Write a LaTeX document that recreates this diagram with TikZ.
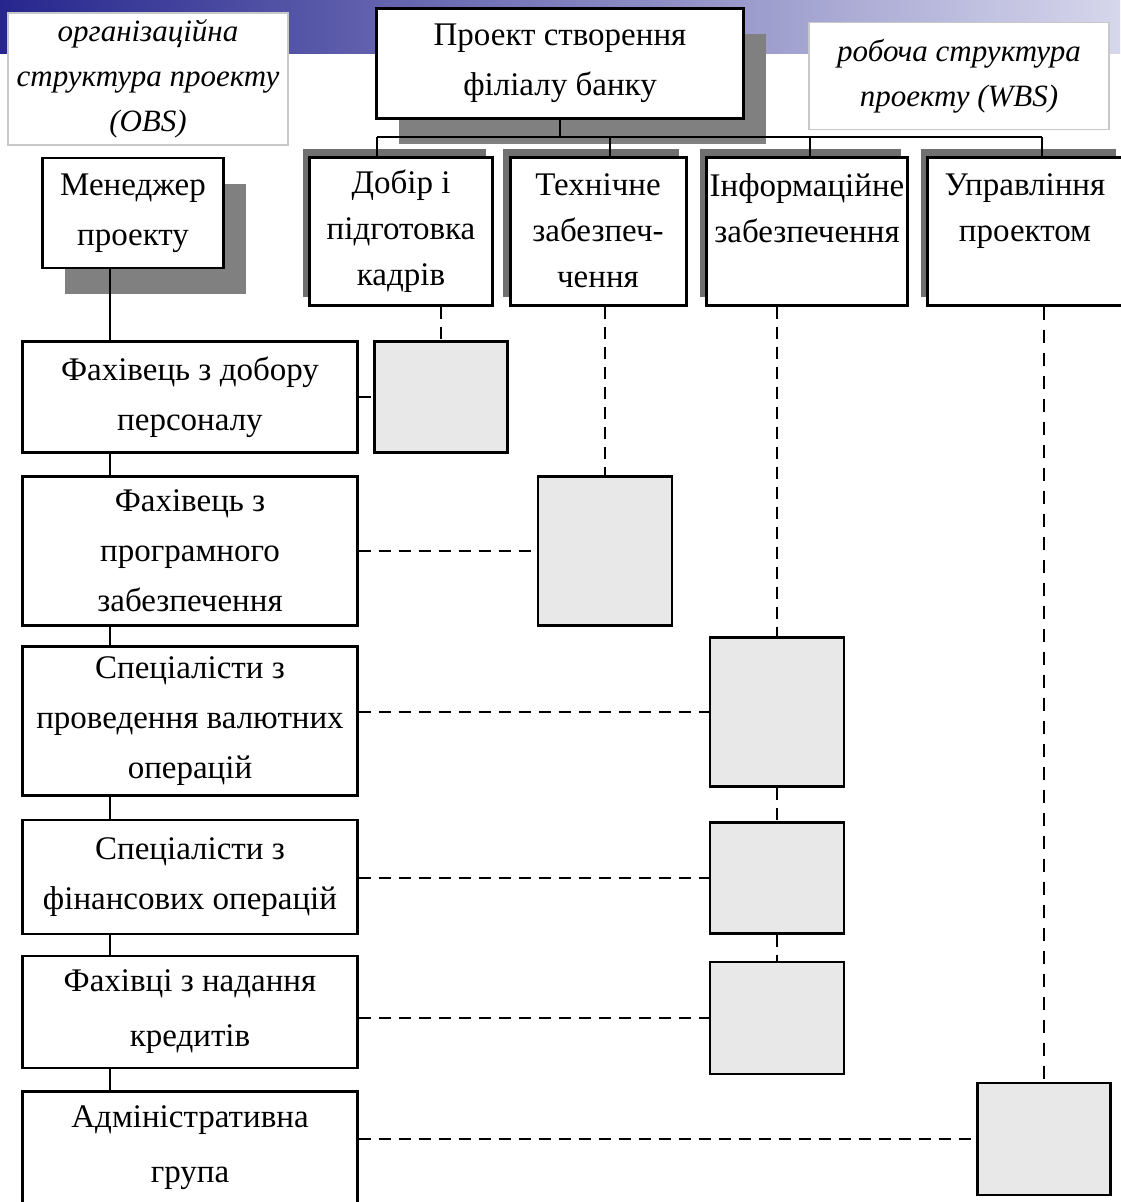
\documentclass[tikz,border=0pt]{standalone}
\usepackage{fontspec}
\setmainfont{Liberation Serif}
\usetikzlibrary{shadows}

\definecolor{bandleft}{RGB}{38,38,142}
\definecolor{bandright}{RGB}{214,214,236}
\definecolor{shadegray}{RGB}{128,128,128}
\definecolor{wbsshade}{RGB}{112,112,112}
\definecolor{packfill}{RGB}{232,232,232}
\definecolor{tagborder}{RGB}{200,200,200}

\tikzset{
    obsbox/.style={draw, line width=2.4pt, fill=white, align=center, inner sep=0pt,
        font=\fontsize{33}{50}\selectfont},
    wbsbox/.style={obsbox, line width=3pt, font=\fontsize{33}{46}\selectfont,
        minimum height=148pt,
        copy shadow={shadow xshift=-7pt, shadow yshift=8pt, fill=wbsshade, draw=none}},
    dropbox/.style={copy shadow={shadow xshift=22pt, shadow yshift=-26pt, fill=shadegray, draw=none}},
    tagbox/.style={draw=tagborder, line width=1.2pt, fill=white, align=center, inner sep=0pt,
        font=\fontsize{31}{45}\selectfont\itshape},
    packbox/.style={draw, line width=2.4pt, fill=packfill, inner sep=0pt},
    link/.style={line width=2.2pt},
    dashlink/.style={line width=2.8pt, dash pattern=on 12pt off 8pt}
}

\begin{document}
\begin{tikzpicture}[x=1pt, y=-1pt]
    \useasboundingbox (0,0) rectangle (1120,1202);
    \shade[left color=bandleft, right color=bandright] (0,0) rectangle (1120,53);

    % labels of the two structures
    \node[tagbox, minimum width=280pt, minimum height=132pt] (obstag) at (148,79)
        {організаційна\\структура проекту\\(OBS)};
    \node[tagbox, minimum width=300pt, minimum height=107pt] (wbstag) at (959,76)
        {робоча структура\\проекту (WBS)};

    % root and WBS level
    \node[obsbox, dropbox, line width=3pt, minimum width=367pt, minimum height=110pt] (root) at (560,63)
        {Проект створення\\філіалу банку};
    \node[wbsbox, minimum width=183pt] (wbs1) at (401,231) {Добір і\\підготовка\\кадрів};
    \node[wbsbox, minimum width=176pt] (wbs2) at (598,231) {Технічне\\забезпеч-\\чення};
    \node[wbsbox, minimum width=201pt] (wbs3) at (807,231) {Інформаційне\\забезпечення\\\mbox{}};
    \node[wbsbox, minimum width=195pt] (wbs4) at (1025,231) {Управління\\проектом\\\mbox{}};

    \coordinate (bus1) at (377,137);
    \coordinate (bus2) at (610,137);
    \coordinate (bus3) at (810,137);
    \coordinate (bus4) at (1042,137);
    \draw[link] (root.south) -- (root.south |- bus1);
    \draw[link] (bus1) -- (bus4);
    \foreach \i in {1,...,4}
        \draw[link] (bus\i) -- (bus\i |- wbs\i.north);

    % OBS column
    \node[obsbox, dropbox, minimum width=181pt, minimum height=110pt] (manager) at (133,213)
        {Менеджер\\проекту};
    \node[obsbox, minimum width=335pt, minimum height=111pt] (obs1) at (190,397)
        {Фахівець з добору\\персоналу};
    \node[obsbox, minimum width=335pt, minimum height=149pt] (obs2) at (190,551)
        {Фахівець з\\програмного\\забезпечення};
    \node[obsbox, minimum width=335pt, minimum height=149pt] (obs3) at (190,721)
        {Спеціалісти з\\проведення валютних\\операцій};
    \node[obsbox, minimum width=335pt, minimum height=114pt] (obs4) at (190,877)
        {Спеціалісти з\\фінансових операцій};
    \node[obsbox, minimum width=335pt, minimum height=112pt, font=\fontsize{33}{55}\selectfont] (obs5) at (190,1012)
        {Фахівці з надання\\кредитів};
    \node[obsbox, minimum width=335pt, minimum height=113pt, font=\fontsize{33}{55}\selectfont] (obs6) at (190,1148)
        {Адміністративна\\група};

    \coordinate (spine) at (110,0);
    \foreach \a/\b in {manager/obs1, obs1/obs2, obs2/obs3, obs3/obs4, obs4/obs5, obs5/obs6}
        \draw[link] (spine |- \a.south) -- (spine |- \b.north);

    % work packages
    \node[packbox, minimum width=133pt, minimum height=111pt] (pack1) at (441,397) {};
    \node[packbox, minimum width=134pt, minimum height=149pt] (pack2) at (605,551) {};
    \node[packbox, minimum width=134pt, minimum height=149pt] (pack3) at (777,712) {};
    \node[packbox, minimum width=134pt, minimum height=111pt] (pack4) at (777,878) {};
    \node[packbox, minimum width=134pt, minimum height=112pt] (pack5) at (777,1018) {};
    \node[packbox, minimum width=133pt, minimum height=112pt] (pack6) at (1044,1139) {};

    \draw[dashlink] (pack1.north |- wbs1.south) -- (pack1.north);
    \draw[dashlink] (pack2.north |- wbs2.south) -- (pack2.north);
    \draw[dashlink] (pack3.north |- wbs3.south) -- (pack3.north);
    \draw[dashlink] (pack3.south) -- (pack4.north);
    \draw[dashlink] (pack4.south) -- (pack5.north);
    \draw[dashlink, line width=2.4pt, dash pattern=on 13pt off 10pt] (pack6.north |- wbs4.south) -- (pack6.north);
    \foreach \i in {1,...,6}
        \draw[dashlink] (pack\i.west -| obs\i.east) -- (pack\i.west);
\end{tikzpicture}
\end{document}
